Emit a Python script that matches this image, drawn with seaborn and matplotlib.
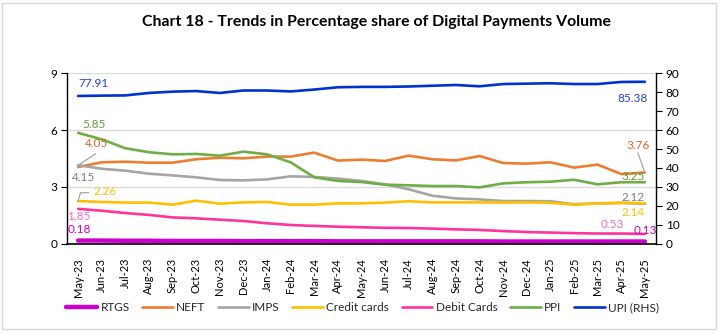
import matplotlib
matplotlib.use("Agg")
import matplotlib.pyplot as plt
import seaborn as sns
import pandas as pd
from matplotlib.patches import Rectangle

months = ["May-23", "Jun-23", "Jul-23", "Aug-23", "Sep-23", "Oct-23", "Nov-23", "Dec-23",
          "Jan-24", "Feb-24", "Mar-24", "Apr-24", "May-24", "Jun-24", "Jul-24", "Aug-24",
          "Sep-24", "Oct-24", "Nov-24", "Dec-24", "Jan-25", "Feb-25", "Mar-25", "Apr-25", "May-25"]

rtgs = [0.18, 0.18, 0.17, 0.17, 0.16, 0.16, 0.16, 0.15, 0.15, 0.15, 0.15, 0.14, 0.14,
        0.14, 0.14, 0.14, 0.14, 0.14, 0.13, 0.13, 0.13, 0.13, 0.13, 0.13, 0.13]
neft = [4.05, 4.30, 4.33, 4.28, 4.28, 4.46, 4.54, 4.51, 4.60, 4.60, 4.81, 4.39, 4.44,
        4.37, 4.65, 4.46, 4.40, 4.63, 4.26, 4.23, 4.30, 4.02, 4.18, 3.68, 3.76]
imps = [4.15, 3.96, 3.86, 3.70, 3.61, 3.51, 3.37, 3.35, 3.40, 3.56, 3.53, 3.44, 3.32,
        3.14, 2.88, 2.54, 2.40, 2.35, 2.26, 2.26, 2.25, 2.09, 2.14, 2.16, 2.12]
credit = [2.26, 2.21, 2.18, 2.18, 2.07, 2.28, 2.12, 2.19, 2.21, 2.07, 2.07, 2.14, 2.14,
          2.18, 2.25, 2.19, 2.19, 2.19, 2.18, 2.19, 2.17, 2.07, 2.13, 2.17, 2.14]
debit = [1.85, 1.75, 1.63, 1.53, 1.40, 1.35, 1.28, 1.21, 1.09, 1.00, 0.95, 0.91, 0.88,
         0.85, 0.84, 0.81, 0.77, 0.74, 0.68, 0.63, 0.60, 0.57, 0.55, 0.55, 0.53]
ppi = [5.85, 5.51, 5.04, 4.83, 4.72, 4.74, 4.65, 4.86, 4.72, 4.30, 3.51, 3.32, 3.26,
       3.12, 3.09, 3.05, 3.05, 2.98, 3.19, 3.25, 3.28, 3.38, 3.14, 3.25, 3.25]
upi = [77.91, 78.1, 78.2, 79.5, 80.2, 80.5, 79.5, 80.8, 80.8, 80.3, 81.3, 82.5, 82.7,
       82.7, 82.9, 83.3, 83.7, 83.0, 84.2, 84.4, 84.6, 84.2, 84.2, 85.3, 85.38]

left_series = [
    ("RTGS", rtgs, "#CC00CC", 3.2),
    ("NEFT", neft, "#ED7D31", 1.9),
    ("IMPS", imps, "#A5A5A5", 1.9),
    ("Credit cards", credit, "#FFC000", 1.9),
    ("Debit Cards", debit, "#FF3399", 1.9),
    ("PPI", ppi, "#70AD47", 1.9),
]
upi_name, upi_color = "UPI (RHS)", "#0033CC"

sns.set_theme(style="white")
plt.rcParams["font.family"] = ["Lato", "DejaVu Sans"]

fig = plt.figure(figsize=(7.21, 3.34), dpi=100)
ax = fig.add_axes([0.0929, 0.2695, 0.8169, 0.5119])
ax2 = ax.twinx()

x = list(range(len(months)))
handles = []
for name, vals, col, lw in left_series:
    df = pd.DataFrame({"x": x, "y": vals})
    sns.lineplot(data=df, x="x", y="y", ax=ax, color=col, linewidth=lw, label=name,
                 legend=False, solid_capstyle="round")
    handles.append(ax.lines[-1])
sns.lineplot(data=pd.DataFrame({"x": x, "y": upi}), x="x", y="y", ax=ax2,
             color=upi_color, linewidth=1.9, label=upi_name, legend=False)
handles.append(ax2.lines[-1])

ax.set_xlim(-0.47, 24.47)
ax.set_ylim(0, 9)
ax2.set_ylim(0, 90)
ax.set_yticks([0, 3, 6, 9])
ax2.set_yticks(range(0, 91, 10))
ax.set_xticks(x)
ax.set_xticklabels(months, rotation=90)
ax.set_xlabel("")
ax.set_ylabel("")
ax2.set_ylabel("")
ax.grid(axis="y", color="#D9D9D9", linewidth=0.9)
ax.set_axisbelow(True)

for a in (ax, ax2):
    for s in a.spines.values():
        s.set_visible(False)
ax.spines["left"].set_visible(True)
ax.spines["left"].set_color("black")
ax.spines["left"].set_linewidth(1.0)
ax.spines["bottom"].set_visible(True)
ax.spines["bottom"].set_color("black")
ax.spines["bottom"].set_linewidth(1.2)
ax2.spines["right"].set_visible(True)
ax2.spines["right"].set_color("black")
ax2.spines["right"].set_linewidth(1.0)

ax.tick_params(axis="y", left=True, length=4, width=0.8, color="black", pad=3,
               labelsize=8.5, labelcolor="black")
ax.tick_params(axis="x", bottom=False, pad=4, labelsize=8, labelcolor="black")
ax2.tick_params(axis="y", right=True, length=4, width=0.8, color="black", pad=3,
                labelsize=8.5, labelcolor="black")

fs = 8.5
# first-month labels
ax2.text(0, 84.5, "77.91", color="#1F3FCC", fontsize=fs, ha="left", va="center")
ax.text(0.2, 6.3, "5.85", color="#5B9A3A", fontsize=fs, ha="left", va="center")
ax.text(0.3, 5.3, "4.05", color="#D9662A", fontsize=fs, ha="left", va="center")
ax.plot([0, 0.75], [4.15, 4.75], color="#A5A5A5", linewidth=0.9)
ax.text(-0.25, 3.5, "4.15", color="#7F7F7F", fontsize=fs, ha="left", va="center")
ax.plot([0, 0.1, 0.45], [2.26, 2.7, 2.7], color="#A5A5A5", linewidth=0.9)
ax.text(0.65, 2.75, "2.26", color="#FFC000", fontsize=fs, ha="left", va="center")
ax.text(-0.45, 1.45, "1.85", color="#FF66CC", fontsize=fs, ha="left", va="center")
ax.text(-0.45, 0.78, "0.18", color="#CC00CC", fontsize=fs, ha="left", va="center")

# last-month labels
ax2.text(24.1, 76.5, "85.38", color="#1F3FCC", fontsize=fs, ha="right", va="center")
ax.text(24.2, 5.2, "3.76", color="#D9662A", fontsize=fs, ha="right", va="center")
ax.plot([23.7, 24.0], [4.8, 3.76], color="#A5A5A5", linewidth=0.9)
ax.text(24.0, 3.55, "3.25", color="#5B9A3A", fontsize=fs, ha="right", va="center")
ax.text(24.0, 2.45, "2.12", color="#7F7F7F", fontsize=fs, ha="right", va="center")
ax.text(24.0, 1.68, "2.14", color="#FFC000", fontsize=fs, ha="right", va="center")
ax.text(23.1, 1.0, "0.53", color="#FF66CC", fontsize=fs, ha="right", va="center")
ax.text(24.5, 0.72, "0.13", color="#CC00CC", fontsize=fs, ha="right", va="center")

fig.text(0.522, 0.935, "Chart 18 - Trends in Percentage share of Digital Payments Volume",
         ha="center", va="center", fontsize=11.4, fontweight="bold", color="black")

labels = [h.get_label() for h in handles]
fig.legend(handles, labels, loc="center", bbox_to_anchor=(0.503, 0.078), ncol=7,
           frameon=False, fontsize=8.5, handlelength=2.6, handletextpad=0.3,
           columnspacing=1.05)

fig.patches.append(Rectangle((0.003, 0.015), 0.99, 0.975, transform=fig.transFigure,
                             fill=False, edgecolor="#D9D9D9", linewidth=1.0))

fig.savefig("out.png", dpi=100)
